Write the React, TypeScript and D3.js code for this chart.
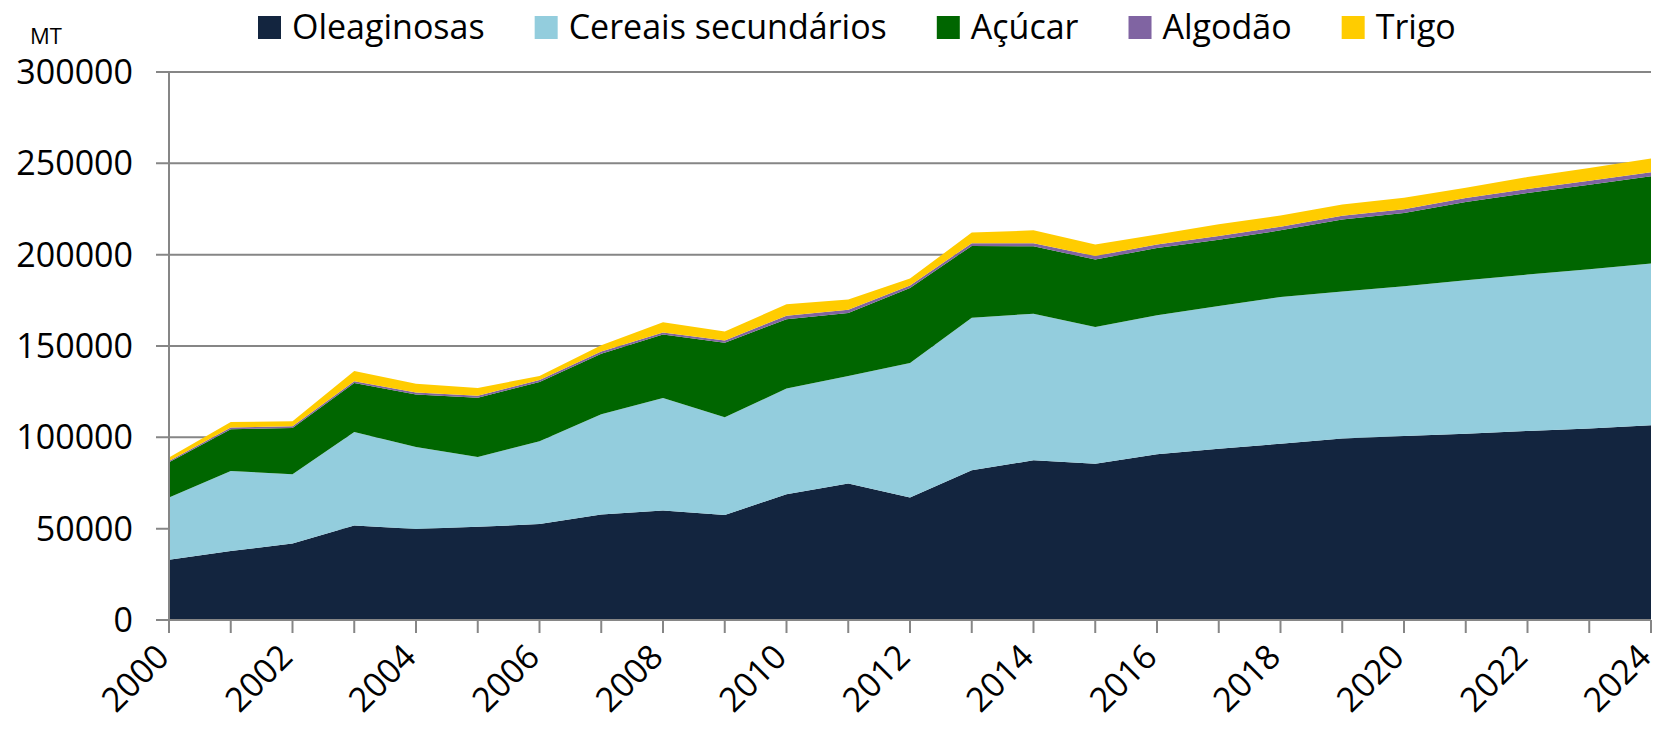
import { useEffect, useRef } from "react"
import * as d3 from "d3"

const years = [2000, 2001, 2002, 2003, 2004, 2005, 2006, 2007, 2008, 2009, 2010, 2011, 2012,
    2013, 2014, 2015, 2016, 2017, 2018, 2019, 2020, 2021, 2022, 2023, 2024]

const oleaginosas = [33000, 37800, 41900, 51800, 49800, 51000, 52500, 57800, 60000, 57500, 68800, 74700, 67000,
    82000, 87400, 85600, 90700, 93800, 96500, 99300, 100700, 102000, 103500, 104800, 106600]
const cereais = [34000, 43800, 37900, 51100, 44900, 38200, 45300, 54800, 61600, 53500, 57900, 58900, 73700,
    83500, 80300, 74800, 76100, 78100, 80300, 80600, 82000, 84000, 85600, 87200, 88500]
const acucar = [19300, 22800, 25300, 26800, 28700, 32500, 32500, 33200, 34700, 40800, 37900, 34500, 41100,
    39300, 36900, 36900, 36900, 36300, 36500, 39300, 40100, 42800, 44600, 46300, 47800]
const algodao = [800, 1000, 900, 1000, 1100, 1100, 1100, 1200, 1100, 1200, 2000, 1800, 1300,
    1500, 1700, 2000, 1900, 2000, 2000, 2100, 2100, 2200, 2200, 2200, 2200]
const trigo = [1900, 3000, 2800, 5600, 4900, 4200, 2200, 3400, 5600, 5000, 6200, 5500, 3800,
    5800, 7000, 6200, 5400, 6400, 6200, 6100, 6300, 5700, 6600, 6900, 7500]

const seriesNames = ["Oleaginosas", "Cereais secundários", "Açúcar", "Algodão", "Trigo"]
const seriesColors = ["#13253f", "#93cddd", "#006600", "#8064a2", "#ffcc00"]
const yTicks = [0, 50000, 100000, 150000, 200000, 250000, 300000]
const xLabelYears = [2000, 2002, 2004, 2006, 2008, 2010, 2012, 2014, 2016, 2018, 2020, 2022, 2024]

const WIDTH = 1660
const HEIGHT = 731
const FONT = "'Open Sans', sans-serif"
const GRID = "#868686"

function App() {
    const ref = useRef<SVGSVGElement>(null)

    useEffect(() => {
        const svg = d3.select(ref.current)
        svg.selectAll("*").remove()

        const columns = [oleaginosas, cereais, acucar, algodao, trigo]
        const rows = years.map((year, i) => {
            const row: any = { year }
            seriesNames.forEach((name, k) => { row[name] = columns[k][i] })
            return row
        })

        const x = d3.scaleLinear().domain([2000, 2024]).range([169, 1651])
        const y = d3.scaleLinear().domain([0, 300000]).range([620, 72])

        // gridlines
        svg.append("g")
            .selectAll("line")
            .data(yTicks.filter(t => t > 0))
            .enter()
            .append("line")
            .attr("x1", 156)
            .attr("x2", x(2024))
            .attr("y1", d => y(d))
            .attr("y2", d => y(d))
            .attr("stroke", GRID)
            .attr("stroke-width", 2)

        // stacked areas
        const stacked = d3.stack().keys(seriesNames)(rows)
        const area = d3.area<any>()
            .x(d => x(d.data.year))
            .y0(d => y(d[0]))
            .y1(d => y(d[1]))

        svg.append("g")
            .selectAll("path")
            .data(stacked)
            .enter()
            .append("path")
            .attr("d", area)
            .attr("fill", (d, i) => seriesColors[i])

        // axes
        const axes = svg.append("g").attr("stroke", GRID).attr("stroke-width", 2)
        axes.append("line")
            .attr("x1", x(2000)).attr("x2", x(2000))
            .attr("y1", y(300000)).attr("y2", y(0) + 13)
        axes.append("line")
            .attr("x1", 156).attr("x2", x(2024))
            .attr("y1", y(0)).attr("y2", y(0))
        axes.selectAll(".xtick")
            .data(years)
            .enter()
            .append("line")
            .attr("x1", d => x(d)).attr("x2", d => x(d))
            .attr("y1", y(0)).attr("y2", y(0) + 13)

        // y labels
        svg.append("g")
            .selectAll("text")
            .data(yTicks)
            .enter()
            .append("text")
            .attr("x", 133)
            .attr("y", d => y(d) + 12)
            .attr("text-anchor", "end")
            .attr("font-family", FONT)
            .attr("font-size", 34)
            .attr("fill", "#000")
            .text(d => String(d))

        // x labels
        svg.append("g")
            .selectAll("text")
            .data(xLabelYears)
            .enter()
            .append("text")
            .attr("transform", d => `translate(${x(d) + 2}, 659) rotate(-45)`)
            .attr("text-anchor", "end")
            .attr("font-family", FONT)
            .attr("font-size", 34)
            .attr("fill", "#000")
            .text(d => String(d))

        // unit
        svg.append("text")
            .attr("x", 30)
            .attr("y", 44)
            .attr("font-family", FONT)
            .attr("font-size", 22)
            .text("MT")

        // legend
        const legend = svg.append("g")
        let lx = 258
        seriesNames.forEach((name, i) => {
            legend.append("rect")
                .attr("x", lx)
                .attr("y", 16)
                .attr("width", 23)
                .attr("height", 23)
                .attr("fill", seriesColors[i])
            const t = legend.append("text")
                .attr("x", lx + 34)
                .attr("y", 39)
                .attr("font-family", FONT)
                .attr("font-size", 34)
                .attr("fill", "#000")
                .text(name)
            const w = (t.node() as SVGTextElement).getComputedTextLength()
            lx += 34 + w + 50
        })
    }, [])

    return (
        <svg ref={ref} width={WIDTH} height={HEIGHT}
            style={{ position: "absolute", left: 0, top: 0, background: "#fff" }} />
    )
}

export default App
